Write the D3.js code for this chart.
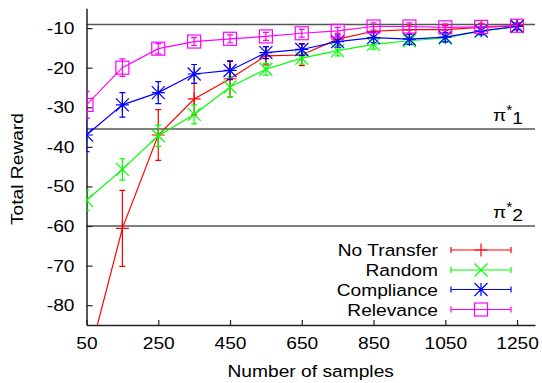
<!doctype html>
<html lang="en">
<head>
  <meta name="viewport" content="width=device-width, initial-scale=1.0">
  <style>
    body { margin: 0; background: #fff; }
    text { font-family: "Liberation Sans", Arial, sans-serif; fill: #000; }
  </style>
</head>
<body>
  <script src="https://d3js.org/d3.v7.min.js" charset="utf-8"></script>
  <div id="chart"></div>
  <script>
    // Data
    var samples = [50, 150, 250, 350, 450, 550, 650, 750, 850, 950, 1050, 1150, 1250];
    var xTicks = [50, 250, 450, 650, 850, 1050, 1250];
    var yTicks = [-10, -20, -30, -40, -50, -60, -70, -80];

    var noTransfer    = [-95.6, -60.6, -37.0, -27.9, -22.8, -17.0, -16.8, -12.8, -10.8, -10.4, -10.4, -9.8, -9.4];
    var noTransferErr = [9.6, 9.6, 6.4, 4.0, 4.6, 2.3, 2.7, 1.5, 1.2, 1.2, 1.0, 1.0, 0.8];
    var random        = [-53.5, -45.7, -37.2, -31.8, -24.9, -20.4, -17.6, -15.7, -14.1, -13.2, -12.5, -10.7, -9.6];
    var randomErr     = [2.6, 2.7, 2.7, 2.4, 2.6, 1.5, 1.5, 1.3, 1.2, 1.0, 1.0, 0.8, 0.8];
    var compliance    = [-37.0, -29.4, -26.3, -21.6, -20.7, -16.2, -15.4, -13.4, -12.4, -12.8, -12.3, -10.7, -9.6];
    var complianceErr = [4.2, 3.1, 2.8, 2.4, 2.3, 1.5, 1.5, 1.4, 1.3, 1.3, 1.2, 1.0, 0.8];
    var relevance     = [-29.4, -20.0, -15.2, -13.4, -12.7, -12.1, -11.3, -10.7, -9.6, -9.6, -9.8, -9.7, -9.4];
    var relevanceErr  = [3.4, 2.2, 1.3, 1.0, 1.0, 1.0, 1.0, 0.9, 0.9, 0.9, 0.8, 0.8, 0.7];

    var refLevels = [-9.1, -35.5, -60];
    var refLabels = ["", "1", "2"];

    var seriesNames  = ["No Transfer", "Random", "Compliance", "Relevance"];
    var seriesColors = ["#ff0000", "#00ff00", "#0000ff", "#ff00ff"];
    var seriesMarks  = ["plus", "cross", "star", "square"];

    var width = 542, height = 383;
    var pLeft = 86.5, pRight = 535, pTop = 8.3, pBottom = 325;
    var sx = 1.13; // horizontal stretch of the original lettering

    var svg = d3.select("#chart").append("svg")
                .attr("width", width)
                .attr("height", height);

    var x = d3.scaleLinear().domain([50, 1300]).range([pLeft, pRight]);
    var y = d3.scaleLinear().domain([-85, -5]).range([pBottom, pTop]);

    svg.append("defs").append("clipPath").attr("id", "plotclip")
       .append("rect").attr("x", pLeft).attr("y", 0)
       .attr("width", pRight - pLeft).attr("height", pBottom);

    // reference lines
    svg.append("g").selectAll("line").data(refLevels).enter()
       .append("line")
       .attr("x1", pLeft).attr("x2", pRight)
       .attr("y1", d => y(d)).attr("y2", d => y(d))
       .attr("stroke", "#555").attr("stroke-width", 1.5);

    var pi = svg.append("g").selectAll("text").data(refLevels.slice(1)).enter()
       .append("text")
       .attr("transform", d => "translate(523," + (y(d) - 8) + ") scale(" + sx + ",1)")
       .attr("text-anchor", "end")
       .style("font-size", "17px");
    pi.append("tspan").text("\u03c0");
    pi.append("tspan").attr("dy", -6).style("font-size", "14px").text("*");
    pi.append("tspan").attr("dy", 9).text((d, i) => refLabels[i + 1]);

    // axes
    var xAxis = svg.append("g")
        .attr("transform", "translate(0," + pBottom + ")")
        .call(d3.axisBottom(x).tickValues(xTicks).tickFormat(d => String(d))
                .tickSize(-5).tickSizeOuter(0).tickPadding(12));
    var yAxis = svg.append("g")
        .attr("transform", "translate(" + pLeft + ",0)")
        .call(d3.axisLeft(y).tickValues(yTicks).tickFormat(d => String(d))
                .tickSize(-6).tickSizeOuter(0).tickPadding(12));

    [xAxis, yAxis].forEach(function(ax) {
      ax.select(".domain").attr("stroke", "#222").attr("stroke-width", 1.5);
      ax.selectAll(".tick line").attr("stroke", "#222").attr("stroke-width", 1.2);
      ax.selectAll(".tick text")
        .style("font-size", "17px")
        .style("font-family", "Liberation Sans, Arial, sans-serif")
        .attr("fill", "#000")
        .each(function() {
          var t = d3.select(this);
          var tx = +t.attr("x") || 0, ty = +t.attr("y") || 0;
          t.attr("x", null).attr("y", null)
           .attr("transform", "translate(" + tx + "," + ty + ") scale(" + sx + ",1)");
        });
    });

    svg.append("text")
       .attr("transform", "translate(310.7,377) scale(" + sx + ",1)")
       .attr("text-anchor", "middle")
       .style("font-size", "17px")
       .text("Number of samples");
    svg.append("text")
       .attr("transform", "translate(23,169) rotate(-90) scale(" + sx + ",1)")
       .attr("text-anchor", "middle")
       .style("font-size", "17px")
       .text("Total Reward");

    // markers
    function marker(g, type, color) {
      var r = 6.5;
      if (type === "plus") {
        g.append("path").attr("d", "M" + (-r) + ",0H" + r + "M0," + (-r) + "V" + r);
      } else if (type === "cross") {
        g.append("path").attr("d", "M" + (-r) + "," + (-r) + "L" + r + "," + r + "M" + (-r) + "," + r + "L" + r + "," + (-r));
      } else if (type === "star") {
        g.append("path").attr("d", "M" + (-r) + ",0H" + r + "M0," + (-r) + "V" + r +
          "M" + (-r) + "," + (-r) + "L" + r + "," + r + "M" + (-r) + "," + r + "L" + r + "," + (-r));
      } else {
        g.append("rect").attr("x", -r).attr("y", -r).attr("width", 2 * r).attr("height", 2 * r).attr("fill", "none");
      }
      g.selectAll("path, rect").attr("stroke", color).attr("stroke-width", 1.2).attr("fill", "none");
    }

    var seriesVals = [noTransfer, random, compliance, relevance];
    var seriesErrs = [noTransferErr, randomErr, complianceErr, relevanceErr];
    var plot = svg.append("g").attr("clip-path", "url(#plotclip)");
    var line = d3.line().x((d, i) => x(samples[i])).y(d => y(d));
    var cap = 3;

    seriesVals.forEach(function(vals, s) {
      var color = seriesColors[s];
      var g = plot.append("g");
      g.append("path").datum(vals)
       .attr("d", line).attr("fill", "none")
       .attr("stroke", color).attr("stroke-width", 1.2);
      var pts = g.selectAll("g.pt").data(vals).enter().append("g")
       .attr("class", "pt")
       .attr("transform", (d, i) => "translate(" + x(samples[i]) + "," + y(d) + ")");
      pts.append("path")
         .attr("d", (d, i) => {
           var e = seriesErrs[s][i];
           var t = y(d + e) - y(d), b = y(d - e) - y(d);
           return "M0," + t + "V" + b + "M" + (-cap) + "," + t + "H" + cap + "M" + (-cap) + "," + b + "H" + cap;
         })
         .attr("stroke", color).attr("stroke-width", 1.2).attr("fill", "none");
      pts.each(function() {
        var p = d3.select(this).append("g");
        marker(p, seriesMarks[s], color);
      });
    });

    // legend
    var legend = svg.append("g");
    var rowsY = [250, 270, 289.5, 309.5];
    seriesNames.forEach(function(name, s) {
      var row = legend.append("g").attr("transform", "translate(0," + rowsY[s] + ")");
      row.append("text")
         .attr("transform", "translate(438,6) scale(" + sx + ",1)")
         .attr("text-anchor", "end")
         .style("font-size", "17px")
         .text(name);
      row.append("path")
         .attr("d", "M451,0H511M451,-3V3M511,-3V3")
         .attr("stroke", seriesColors[s]).attr("stroke-width", 1.2).attr("fill", "none");
      var m = row.append("g").attr("transform", "translate(481,0)");
      marker(m, seriesMarks[s], seriesColors[s]);
    });
  </script>
</body>
</html>
